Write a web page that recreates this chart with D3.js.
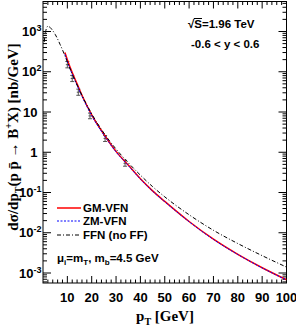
<!DOCTYPE html>
<html>
<head>
<meta charset="utf-8">
<script src="https://cdn.jsdelivr.net/npm/d3@7"></script>
<style>
  body { margin: 0; background: #fff; }
  svg { display: block; }
  text { font-family: "Liberation Sans", Arial, sans-serif; font-weight: bold; }
  .serif { font-family: "Liberation Serif", "Times New Roman", serif; }
</style>
</head>
<body>
<script>
// FFN (no FF) curve
var ffnPt  = [0.5, 1, 2, 3, 4, 5, 6, 7, 8, 9, 10, 12, 14, 16, 18, 20, 25, 30, 35, 40, 45, 50, 60, 70, 80, 90, 100];
var ffnVal = [550, 950, 1350, 1250, 1050, 850, 650, 480, 350, 250, 175, 88, 47, 26, 15, 9, 3.0, 1.2, 0.55, 0.27, 0.14, 0.078, 0.028, 0.0115, 0.0054, 0.0027, 0.0014];

// GM-VFN and ZM-VFN curves
var vfnPt = [9, 10, 12, 14, 16, 18, 20, 25, 30, 35, 40, 45, 50, 60, 70, 80, 90, 100];
var gmVal = [300, 200, 95, 50, 26, 14.5, 8.5, 2.8, 1.05, 0.48, 0.22, 0.11, 0.06, 0.019, 0.0069, 0.0029, 0.00135, 0.00068];
var zmVal = [270, 180, 87, 46, 24.5, 13.8, 8.1, 2.7, 1.02, 0.47, 0.215, 0.108, 0.059, 0.0188, 0.0068, 0.00288, 0.00134, 0.00067];

// CDF data points
var dataPt  = [10, 12, 14.5, 19.3, 25.5, 33.7];
var dataVal = [150, 68, 31, 8, 2.2, 0.53];
var dataLo  = [125, 57, 26, 6.8, 1.85, 0.45];
var dataHi  = [180, 81, 37, 9.4, 2.6, 0.63];

var xTicks = [10, 20, 30, 40, 50, 60, 70, 80, 90, 100];
var yTicks = [[1e3, '10', '3'], [1e2, '10', '2'], [10, '10', ''], [1, '1', ''],
              [1e-1, '10', '-1'], [1e-2, '10', '-2'], [1e-3, '10', '-3']];

var W = 296, H = 327,
    X0 = 43, X1 = 286.5, Y0 = 1.5, Y1 = 283;

var svg = d3.select('body').append('svg')
    .attr('width', W)
    .attr('height', H);

var x = d3.scaleLinear().domain([0, 100]).range([X0, X1]);
// 10^3 sits at y=31.5 and 10^-3 at y=273
var dec = (273 - 31.5) / 6;
var y = d3.scaleLog()
    .domain([Math.pow(10, -3 - (Y1 - 273) / dec), Math.pow(10, 3 + (31.5 - Y0) / dec)])
    .range([Y1, Y0]);

var plot = svg.append('g');
plot.append('clipPath').attr('id', 'clip')
  .append('rect').attr('x', X0).attr('y', Y0).attr('width', X1 - X0).attr('height', Y1 - Y0);

// frame + ticks
var ax = svg.append('g').attr('stroke', '#000').attr('stroke-width', 1).attr('fill', 'none');
ax.append('rect').attr('x', X0).attr('y', Y0).attr('width', X1 - X0).attr('height', Y1 - Y0);

d3.range(2, 100, 2).forEach(function(v) {
    var len = v % 10 === 0 ? 7 : 3.5;
    ax.append('path').attr('d', 'M' + [x(v), Y1] + 'V' + (Y1 - len));
    ax.append('path').attr('d', 'M' + [x(v), Y0] + 'V' + (Y0 + len));
});

var yd = y.domain();
d3.range(-4, 4).forEach(function(e) {
    d3.range(1, 10).forEach(function(m) {
        var v = m * Math.pow(10, e);
        if (v < yd[0] || v > yd[1]) return;
        var len = m === 1 ? 8 : 4;
        ax.append('path').attr('d', 'M' + [X0, y(v)] + 'H' + (X0 + len));
        ax.append('path').attr('d', 'M' + [X1, y(v)] + 'H' + (X1 - len));
    });
});

// tick labels
svg.selectAll('.xl').data(xTicks).enter().append('text')
    .attr('x', function(d) { return x(d); })
    .attr('y', 302)
    .attr('text-anchor', 'middle')
    .style('font-size', '13px')
    .text(function(d) { return d; });

yTicks.forEach(function(t) {
    var tx = svg.append('text')
        .attr('x', t[2] ? 41.5 : 37.5)
        .attr('y', y(t[0]) + 4.5)
        .attr('text-anchor', 'end')
        .style('font-size', '13px');
    tx.append('tspan').text(t[1]);
    if (t[2]) tx.append('tspan').attr('dy', -5).style('font-size', '9px').text(t[2]);
});

// axis titles
var yt = svg.append('text').attr('class', 'serif')
    .attr('transform', 'translate(18,' + 137 + ') rotate(-90)')
    .attr('text-anchor', 'middle')
    .style('font-size', '15px');
yt.append('tspan').text('d\u03c3/dp');
yt.append('tspan').attr('dy', 4).style('font-size', '10px').text('T');
yt.append('tspan').attr('dy', -4).text('(p p\u0304 \u2192 B');
yt.append('tspan').attr('dy', -6).style('font-size', '10px').text('+');
yt.append('tspan').attr('dy', 6).text('X) [nb/GeV]');

var xt = svg.append('text').attr('class', 'serif')
    .attr('x', 165).attr('y', 321)
    .attr('text-anchor', 'middle')
    .style('font-size', '15px');
xt.append('tspan').text('p');
xt.append('tspan').attr('dy', 4).style('font-size', '10px').text('T');
xt.append('tspan').attr('dy', -4).text(' [GeV]');

// data points
var pts = svg.append('g').attr('stroke', '#555').attr('stroke-width', 1);
dataPt.forEach(function(p, i) {
    var cx = x(p);
    pts.append('path').attr('d', 'M' + [cx, y(dataLo[i])] + 'V' + y(dataHi[i]));
    pts.append('path').attr('d', 'M' + [cx - 2, y(dataLo[i])] + 'H' + (cx + 2));
    pts.append('path').attr('d', 'M' + [cx - 2, y(dataHi[i])] + 'H' + (cx + 2));
    pts.append('path').attr('d', 'M' + [cx - 1.5, y(dataVal[i])] + 'H' + (cx + 1.5));
});

// curves
var line = d3.line()
    .x(function(d) { return x(d[0]); })
    .y(function(d) { return y(d[1]); })
    .curve(d3.curveMonotoneX);

var curves = svg.append('g').attr('clip-path', 'url(#clip)').attr('fill', 'none');
curves.append('path')
    .attr('d', line(d3.zip(vfnPt, gmVal)))
    .attr('stroke', '#ff0000').attr('stroke-width', 1.5);
curves.append('path')
    .attr('d', line(d3.zip(vfnPt, zmVal)))
    .attr('stroke', '#0000ff').attr('stroke-width', 1).attr('stroke-dasharray', '2,1.5');
curves.append('path')
    .attr('d', line(d3.zip(ffnPt, ffnVal)))
    .attr('stroke', '#000').attr('stroke-width', 1).attr('stroke-dasharray', '4,2,1,2');

// legend
var leg = [['GM-VFN', '#ff0000', null, 1.5, 208],
           ['ZM-VFN', '#0000ff', '2,1.5', 1, 221],
           ['FFN (no FF)', '#000', '4,2,1,2', 1, 235]];
leg.forEach(function(l) {
    svg.append('path')
        .attr('d', 'M' + [57, l[4]] + 'H' + 81)
        .attr('stroke', l[1]).attr('stroke-width', l[3])
        .attr('stroke-dasharray', l[2]);
    svg.append('text')
        .attr('x', 83).attr('y', l[4] + 4)
        .style('font-size', '11.5px')
        .text(l[0]);
});

var mu = svg.append('text').attr('x', 57).attr('y', 262).style('font-size', '11.5px');
mu.append('tspan').text('\u03bc');
mu.append('tspan').attr('dy', 3).style('font-size', '8px').text('i');
mu.append('tspan').attr('dy', -3).text('=m');
mu.append('tspan').attr('dy', 3).style('font-size', '8px').text('T');
mu.append('tspan').attr('dy', -3).text(', m');
mu.append('tspan').attr('dy', 3).style('font-size', '8px').text('b');
mu.append('tspan').attr('dy', -3).text('=4.5 GeV');

// annotations
var sq = svg.append('text').attr('x', 188).attr('y', 27.5).style('font-size', '11.5px');
sq.append('tspan').text('\u221a');
sq.append('tspan').text('S');
sq.append('tspan').text('=1.96 TeV');
var sStart = sq.node().getSubStringLength(0, 1);
var sW = sq.node().getSubStringLength(1, 1);
svg.append('path')
    .attr('d', 'M' + [188 + sStart - 0.5, 18.5] + 'H' + (188 + sStart + sW))
    .attr('stroke', '#000').attr('stroke-width', 1);

svg.append('text').attr('x', 191).attr('y', 48)
    .style('font-size', '11.5px')
    .text('-0.6 < y < 0.6');
</script>
</body>
</html>
